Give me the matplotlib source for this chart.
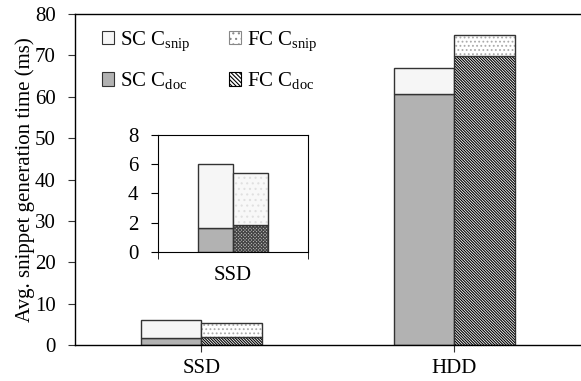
import matplotlib
matplotlib.use("Agg")
import matplotlib.pyplot as plt
from matplotlib.patches import Patch
import numpy as np

plt.rcParams['font.family'] = ['Liberation Serif', 'DejaVu Serif']
plt.rcParams['mathtext.fontset'] = 'custom'
plt.rcParams['mathtext.rm'] = 'Liberation Serif'
plt.rcParams['mathtext.it'] = 'Liberation Serif:italic'
plt.rcParams['hatch.linewidth'] = 0.8

devices = ["SSD", "HDD"]
sc_doc = [1.66, 60.8]
sc_total = [5.95, 66.9]
fc_doc = [1.85, 69.8]
fc_total = [5.35, 74.9]

inset_sc_doc = 1.66
inset_sc_total = 5.98
inset_fc_doc = 1.85
inset_fc_total = 5.36

edge = "#333333"
light = "#f6f6f6"
gray = "#b2b2b2"
fs = 15

fig = plt.figure(figsize=(5.81, 3.81), dpi=100)
ax = fig.add_axes([0.129, 0.0945, 0.871, 0.8685])

x = np.arange(len(devices))
w = 0.24
sc_snip = np.array(sc_total) - np.array(sc_doc)
fc_snip = np.array(fc_total) - np.array(fc_doc)


def hatched(a, xs, h, bottom, width, face, hatch, hcol):
    a.bar(xs, h, width, bottom=bottom, color=face, edgecolor=hcol, hatch=hatch, linewidth=0)
    a.bar(xs, h, width, bottom=bottom, fill=False, edgecolor=edge, linewidth=1.0)


diag = "\\" * 12
hatched(ax, x - w / 2, sc_doc, 0, w, gray, None, gray)
hatched(ax, x - w / 2, sc_snip, sc_doc, w, light, None, light)
hatched(ax, x + w / 2, fc_doc, 0, w, "white", diag, "black")
hatched(ax, x + w / 2, fc_snip, fc_doc, w, "white", "....", "#aaaaaa")

ax.set_xlim(-0.5, 1.5)
ax.set_ylim(0, 80)
ax.set_yticks(np.arange(0, 81, 10))
ax.set_xticks(x)
ax.set_xticklabels(devices)
ax.tick_params(axis='both', direction='out', length=5, labelsize=fs, color=edge)
ax.tick_params(axis='y', pad=9)
ax.tick_params(axis='x', pad=5)
ax.spines['right'].set_visible(False)
for s in ['left', 'bottom', 'top']:
    ax.spines[s].set_linewidth(1.0)
ax.set_ylabel("Avg. snippet generation time (ms)", fontsize=fs, labelpad=0)

handles = [
    Patch(facecolor=light, edgecolor=edge, linewidth=0.8),
    Patch(facecolor=gray, edgecolor=edge, linewidth=0.8),
    Patch(facecolor="white", edgecolor="#888888", hatch="...", linewidth=0.8),
    Patch(facecolor="white", edgecolor="black", hatch="\\" * 8, linewidth=0.8),
]
labels = [r"SC C$_{\mathrm{snip}}$", r"SC C$_{\mathrm{doc}}$",
          r"FC C$_{\mathrm{snip}}$", r"FC C$_{\mathrm{doc}}$"]
ax.legend(handles, labels, ncol=2, loc='upper left', frameon=False, fontsize=fs,
          handlelength=0.6, handleheight=0.6, handletextpad=0.3,
          columnspacing=1.8, labelspacing=0.85, borderaxespad=0.4,
          bbox_to_anchor=(0.02, 1.005))

# inset
ins = fig.add_axes([0.272, 0.339, 0.258, 0.307])
iw = 0.467
hatched(ins, [-iw / 2], [inset_sc_doc], 0, iw, gray, None, gray)
hatched(ins, [-iw / 2], [inset_sc_total - inset_sc_doc], [inset_sc_doc], iw, light, None, light)
hatched(ins, [iw / 2], [inset_fc_doc], 0, iw, "#bbbbbb", "x" * 10, "#444444")
hatched(ins, [iw / 2], [inset_fc_total - inset_fc_doc], [inset_fc_doc], iw, "#f8f8f8", "...", "#e0e0e0")
ins.set_xlim(-1, 1)
ins.set_ylim(0, 8)
ins.set_yticks(np.arange(0, 9, 2))
ins.set_xticks([-1, 1], minor=True)
ins.set_xticks([0])
ins.set_xticklabels(["SSD"])
ins.tick_params(axis='x', which='major', length=0, pad=10, labelsize=fs)
ins.tick_params(axis='x', which='minor', length=5, direction='out')
ins.tick_params(axis='y', direction='out', length=5, pad=9, labelsize=fs)

fig.savefig("out.png", dpi=100)
